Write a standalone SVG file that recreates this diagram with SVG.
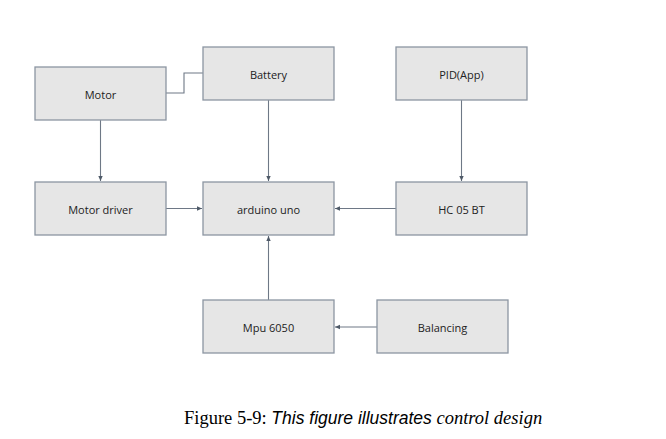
<svg xmlns="http://www.w3.org/2000/svg" width="666" height="439" viewBox="0 0 666 439">
<style>
.box{fill:#e6e6e6;stroke:#8c96a2;stroke-width:1.3}
.lbl{font-family:"Open Sans","Liberation Sans",sans-serif;font-size:11px;fill:#222;text-anchor:middle;dominant-baseline:central}
.c{fill:none;stroke:#6e7886;stroke-width:1.1}
</style>
<defs>
<marker id="ah" markerWidth="6" markerHeight="6" refX="5" refY="3" orient="auto" markerUnits="userSpaceOnUse">
<path d="M0,0.8 L5,3 L0,5.2 Z" fill="#4f5a68"/>
</marker>
</defs>
<rect width="666" height="439" fill="#fff"/>
<g id="connectors">
<path class="c" d="M166,93 H184 V73 H203"/>
<path class="c" d="M100.5,120 V181" marker-end="url(#ah)"/>
<path class="c" d="M268.5,100 V181" marker-end="url(#ah)"/>
<path class="c" d="M166,208.5 H202" marker-end="url(#ah)"/>
<path class="c" d="M396,208.5 H335" marker-end="url(#ah)"/>
<path class="c" d="M461.5,100 V181" marker-end="url(#ah)"/>
<path class="c" d="M268.5,300 V236" marker-end="url(#ah)"/>
<path class="c" d="M377,327 H335" marker-end="url(#ah)"/>
</g>
<g id="motor"><rect class="box" x="35" y="67" width="131" height="53"/><text class="lbl" x="100.5" y="94">Motor</text></g>
<g id="battery"><rect class="box" x="203" y="47" width="131" height="53"/><text class="lbl" x="268.5" y="74">Battery</text></g>
<g id="pid"><rect class="box" x="396" y="47" width="131" height="53"/><text class="lbl" x="461.5" y="74">PID(App)</text></g>
<g id="motor-driver"><rect class="box" x="35" y="182" width="131" height="53"/><text class="lbl" x="100.5" y="209">Motor driver</text></g>
<g id="arduino"><rect class="box" x="203" y="182" width="131" height="53"/><text class="lbl" x="268.5" y="209">arduino uno</text></g>
<g id="hc05"><rect class="box" x="396" y="182" width="131" height="53"/><text class="lbl" x="461.5" y="209">HC 05 BT</text></g>
<g id="mpu"><rect class="box" x="203" y="300" width="131" height="53"/><text class="lbl" x="268.5" y="327">Mpu 6050</text></g>
<g id="balancing"><rect class="box" x="377" y="300" width="131" height="53"/><text class="lbl" x="442.5" y="327">Balancing</text></g>
<text x="184" y="424" font-family="'Liberation Serif', serif" font-size="18.5" fill="#000">Figure 5-9: <tspan font-family="'Liberation Sans', sans-serif" font-style="italic" font-size="17.5">This figure illustrates</tspan> <tspan font-family="'Liberation Serif', serif" font-style="italic">control design</tspan></text>
</svg>
